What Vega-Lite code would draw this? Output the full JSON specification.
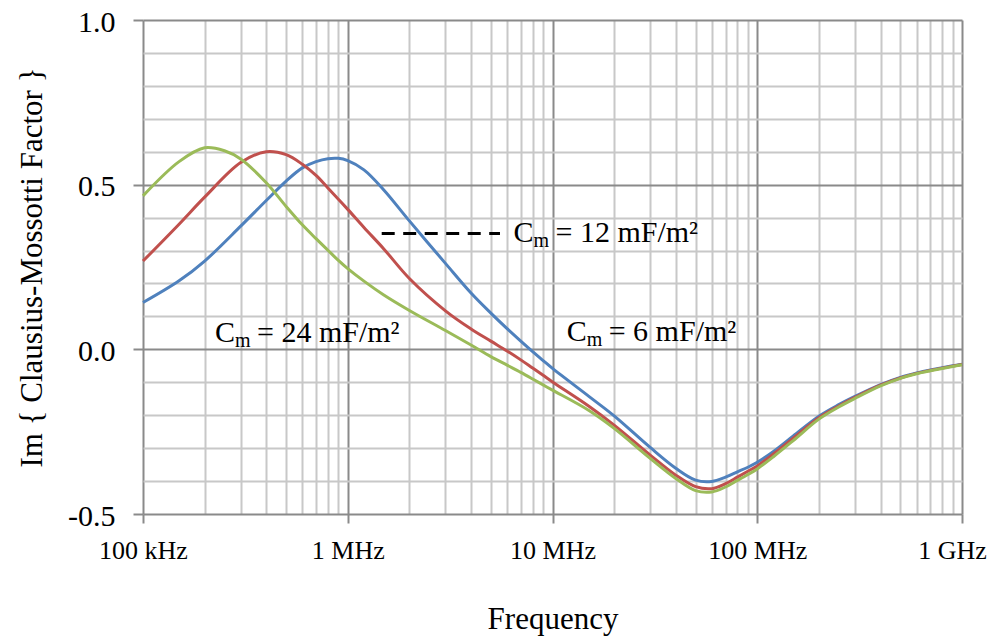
{
  "$schema": "https://vega.github.io/schema/vega-lite/v6.json",
  "width": 819,
  "height": 494,
  "autosize": {"type": "none"},
  "padding": {"left": 143, "top": 20, "right": 32, "bottom": 125},
  "config": {"view": {"stroke": null}, "font": "Liberation Serif"},
  "datasets": {
    "curves": [
      {"f": 100000, "v": 0.142, "s": "6"}, {"f": 150000, "v": 0.208, "s": "6"}, {"f": 200000, "v": 0.268, "s": "6"}, {"f": 300000, "v": 0.374, "s": "6"}, {"f": 400000, "v": 0.452, "s": "6"}, {"f": 500000, "v": 0.511, "s": "6"}, {"f": 600000, "v": 0.551, "s": "6"}, {"f": 700000, "v": 0.57, "s": "6"}, {"f": 800000, "v": 0.579, "s": "6"}, {"f": 900000, "v": 0.58, "s": "6"}, {"f": 1000000, "v": 0.573, "s": "6"}, {"f": 1200000, "v": 0.545, "s": "6"}, {"f": 1500000, "v": 0.484, "s": "6"}, {"f": 2000000, "v": 0.39, "s": "6"}, {"f": 3000000, "v": 0.261, "s": "6"}, {"f": 4000000, "v": 0.171, "s": "6"}, {"f": 5000000, "v": 0.11, "s": "6"}, {"f": 6000000, "v": 0.063, "s": "6"}, {"f": 7000000, "v": 0.025, "s": "6"}, {"f": 8000000, "v": -0.007, "s": "6"}, {"f": 9000000, "v": -0.034, "s": "6"}, {"f": 10000000, "v": -0.058, "s": "6"}, {"f": 15000000, "v": -0.142, "s": "6"}, {"f": 20000000, "v": -0.202, "s": "6"}, {"f": 30000000, "v": -0.298, "s": "6"}, {"f": 40000000, "v": -0.361, "s": "6"}, {"f": 50000000, "v": -0.397, "s": "6"}, {"f": 60000000, "v": -0.401, "s": "6"}, {"f": 70000000, "v": -0.388, "s": "6"}, {"f": 80000000, "v": -0.372, "s": "6"}, {"f": 90000000, "v": -0.358, "s": "6"}, {"f": 100000000, "v": -0.343, "s": "6"}, {"f": 120000000, "v": -0.31, "s": "6"}, {"f": 150000000, "v": -0.263, "s": "6"}, {"f": 200000000, "v": -0.203, "s": "6"}, {"f": 250000000, "v": -0.168, "s": "6"}, {"f": 300000000, "v": -0.143, "s": "6"}, {"f": 400000000, "v": -0.107, "s": "6"}, {"f": 500000000, "v": -0.085, "s": "6"}, {"f": 600000000, "v": -0.072, "s": "6"}, {"f": 700000000, "v": -0.063, "s": "6"}, {"f": 800000000, "v": -0.056, "s": "6"}, {"f": 900000000, "v": -0.05, "s": "6"}, {"f": 1000000000, "v": -0.045, "s": "6"},
      {"f": 100000, "v": 0.268, "s": "12"}, {"f": 150000, "v": 0.38, "s": "12"}, {"f": 200000, "v": 0.462, "s": "12"}, {"f": 300000, "v": 0.567, "s": "12"}, {"f": 400000, "v": 0.6, "s": "12"}, {"f": 500000, "v": 0.591, "s": "12"}, {"f": 600000, "v": 0.562, "s": "12"}, {"f": 700000, "v": 0.528, "s": "12"}, {"f": 800000, "v": 0.49, "s": "12"}, {"f": 900000, "v": 0.456, "s": "12"}, {"f": 1000000, "v": 0.425, "s": "12"}, {"f": 1200000, "v": 0.37, "s": "12"}, {"f": 1500000, "v": 0.305, "s": "12"}, {"f": 2000000, "v": 0.215, "s": "12"}, {"f": 3000000, "v": 0.117, "s": "12"}, {"f": 4000000, "v": 0.062, "s": "12"}, {"f": 5000000, "v": 0.025, "s": "12"}, {"f": 6000000, "v": -0.005, "s": "12"}, {"f": 7000000, "v": -0.032, "s": "12"}, {"f": 8000000, "v": -0.057, "s": "12"}, {"f": 9000000, "v": -0.079, "s": "12"}, {"f": 10000000, "v": -0.099, "s": "12"}, {"f": 15000000, "v": -0.172, "s": "12"}, {"f": 20000000, "v": -0.23, "s": "12"}, {"f": 30000000, "v": -0.321, "s": "12"}, {"f": 40000000, "v": -0.382, "s": "12"}, {"f": 50000000, "v": -0.417, "s": "12"}, {"f": 60000000, "v": -0.423, "s": "12"}, {"f": 70000000, "v": -0.408, "s": "12"}, {"f": 80000000, "v": -0.388, "s": "12"}, {"f": 90000000, "v": -0.37, "s": "12"}, {"f": 100000000, "v": -0.354, "s": "12"}, {"f": 120000000, "v": -0.318, "s": "12"}, {"f": 150000000, "v": -0.27, "s": "12"}, {"f": 200000000, "v": -0.208, "s": "12"}, {"f": 250000000, "v": -0.172, "s": "12"}, {"f": 300000000, "v": -0.146, "s": "12"}, {"f": 400000000, "v": -0.109, "s": "12"}, {"f": 500000000, "v": -0.087, "s": "12"}, {"f": 600000000, "v": -0.073, "s": "12"}, {"f": 700000000, "v": -0.064, "s": "12"}, {"f": 800000000, "v": -0.057, "s": "12"}, {"f": 900000000, "v": -0.051, "s": "12"}, {"f": 1000000000, "v": -0.046, "s": "12"},
      {"f": 100000, "v": 0.466, "s": "24"}, {"f": 150000, "v": 0.57, "s": "24"}, {"f": 200000, "v": 0.612, "s": "24"}, {"f": 250000, "v": 0.603, "s": "24"}, {"f": 300000, "v": 0.578, "s": "24"}, {"f": 400000, "v": 0.506, "s": "24"}, {"f": 500000, "v": 0.434, "s": "24"}, {"f": 600000, "v": 0.378, "s": "24"}, {"f": 700000, "v": 0.336, "s": "24"}, {"f": 800000, "v": 0.301, "s": "24"}, {"f": 900000, "v": 0.27, "s": "24"}, {"f": 1000000, "v": 0.245, "s": "24"}, {"f": 1200000, "v": 0.207, "s": "24"}, {"f": 1500000, "v": 0.165, "s": "24"}, {"f": 2000000, "v": 0.118, "s": "24"}, {"f": 3000000, "v": 0.057, "s": "24"}, {"f": 4000000, "v": 0.013, "s": "24"}, {"f": 5000000, "v": -0.022, "s": "24"}, {"f": 6000000, "v": -0.048, "s": "24"}, {"f": 7000000, "v": -0.07, "s": "24"}, {"f": 8000000, "v": -0.09, "s": "24"}, {"f": 9000000, "v": -0.108, "s": "24"}, {"f": 10000000, "v": -0.124, "s": "24"}, {"f": 15000000, "v": -0.185, "s": "24"}, {"f": 20000000, "v": -0.24, "s": "24"}, {"f": 30000000, "v": -0.331, "s": "24"}, {"f": 40000000, "v": -0.392, "s": "24"}, {"f": 50000000, "v": -0.429, "s": "24"}, {"f": 60000000, "v": -0.433, "s": "24"}, {"f": 70000000, "v": -0.418, "s": "24"}, {"f": 80000000, "v": -0.398, "s": "24"}, {"f": 90000000, "v": -0.38, "s": "24"}, {"f": 100000000, "v": -0.363, "s": "24"}, {"f": 120000000, "v": -0.326, "s": "24"}, {"f": 150000000, "v": -0.277, "s": "24"}, {"f": 200000000, "v": -0.212, "s": "24"}, {"f": 250000000, "v": -0.175, "s": "24"}, {"f": 300000000, "v": -0.149, "s": "24"}, {"f": 400000000, "v": -0.111, "s": "24"}, {"f": 500000000, "v": -0.088, "s": "24"}, {"f": 600000000, "v": -0.074, "s": "24"}, {"f": 700000000, "v": -0.065, "s": "24"}, {"f": 800000000, "v": -0.058, "s": "24"}, {"f": 900000000, "v": -0.052, "s": "24"}, {"f": 1000000000, "v": -0.047, "s": "24"}
    ],
    "labels": [
      {"f": 224700, "v": 0.023, "rest": "= 24 mF/m²"},
      {"f": 11730000, "v": 0.024, "rest": "= 6 mF/m²"},
      {"f": 6450000, "v": 0.327, "rest": "= 12 mF/m²"}
    ],
    "dash": [
      {"f1": 1465000, "f2": 5540000, "v": 0.352}
    ]
  },
  "encoding": {
    "x": {
      "field": "f", "type": "quantitative",
      "scale": {"type": "log", "domain": [100000, 1000000000], "nice": false},
      "axis": {
        "values": [100000, 200000, 300000, 400000, 500000, 600000, 700000, 800000, 900000, 1000000, 2000000, 3000000, 4000000, 5000000, 6000000, 7000000, 8000000, 9000000, 10000000, 20000000, 30000000, 40000000, 50000000, 60000000, 70000000, 80000000, 90000000, 100000000, 200000000, 300000000, 400000000, 500000000, 600000000, 700000000, 800000000, 900000000, 1000000000],
        "title": "Frequency",
        "titleFont": "Liberation Serif", "titleFontSize": 31, "titleFontWeight": "normal", "titleColor": "#000",
        "titleX": 409.5, "titleY": 114, "titleBaseline": "alphabetic", "titleAnchor": "middle",
        "labelExpr": "abs(datum.value-1e5)<1 ? '100 kHz' : abs(datum.value-1e6)<1 ? '1 MHz' : abs(datum.value-1e7)<1 ? '10 MHz' : abs(datum.value-1e8)<1 ? '100 MHz' : abs(datum.value-1e9)<1 ? '1 GHz' : ''",
        "labelFont": "Liberation Serif", "labelFontSize": 26, "labelColor": "#000",
        "labelBaseline": "alphabetic", "labelPadding": 35, "labelFlush": false, "labelOverlap": false,
        "labelOffset": {"condition": {"test": "datum.value > 5e8", "value": -10}, "value": 0},
        "domain": false,
        "grid": true,
        "gridColor": {"condition": {"test": "abs(log(datum.value)/LN10 - round(log(datum.value)/LN10)) < 1e-6", "value": "#8a8a8a"}, "value": "#c8c8c8"},
        "gridWidth": 2,
        "ticks": true, "tickSize": 9, "tickWidth": 2,
        "tickColor": {"condition": {"test": "abs(log(datum.value)/LN10 - round(log(datum.value)/LN10)) < 1e-6", "value": "#8a8a8a"}, "value": "transparent"}
      }
    },
    "y": {
      "field": "v", "type": "quantitative",
      "scale": {"domain": [-0.5, 1.0], "nice": false, "zero": false},
      "axis": {
        "values": [-0.5, -0.4, -0.3, -0.2, -0.1, 0, 0.1, 0.2, 0.3, 0.4, 0.5, 0.6, 0.7, 0.8, 0.9, 1.0],
        "title": "Im { Clausius-Mossotti Factor }",
        "titleFont": "Liberation Serif", "titleFontSize": 31, "titleFontWeight": "normal", "titleColor": "#000",
        "titleAngle": -90, "titleX": -102, "titleY": 247, "titleBaseline": "alphabetic", "titleAlign": "center",
        "labelExpr": "abs(datum.value+0.5)<1e-6 ? '-0.5' : abs(datum.value)<1e-6 ? '0.0' : abs(datum.value-0.5)<1e-6 ? '0.5' : abs(datum.value-1)<1e-6 ? '1.0' : ''",
        "labelFont": "Liberation Serif", "labelFontSize": 30, "labelColor": "#000",
        "labelPadding": 18, "labelOffset": 2, "labelOverlap": false, "labelFlush": false,
        "domain": false,
        "grid": true,
        "gridColor": {"condition": {"test": "abs(datum.value*2 - round(datum.value*2)) < 1e-6", "value": "#8a8a8a"}, "value": "#c8c8c8"},
        "gridWidth": 2,
        "ticks": true, "tickSize": 10, "tickWidth": 2,
        "tickColor": {"condition": {"test": "abs(datum.value*2 - round(datum.value*2)) < 1e-6", "value": "#8a8a8a"}, "value": "transparent"}
      }
    }
  },
  "layer": [
    {
      "data": {"name": "curves"},
      "transform": [{"filter": "datum.s === '6'"}],
      "mark": {"type": "line", "interpolate": "catmull-rom", "strokeWidth": 3, "color": "#4f81bd"}
    },
    {
      "data": {"name": "curves"},
      "transform": [{"filter": "datum.s === '12'"}],
      "mark": {"type": "line", "interpolate": "catmull-rom", "strokeWidth": 3, "color": "#c0504d"}
    },
    {
      "data": {"name": "curves"},
      "transform": [{"filter": "datum.s === '24'"}],
      "mark": {"type": "line", "interpolate": "catmull-rom", "strokeWidth": 3, "color": "#9bbb59"}
    },
    {
      "data": {"name": "dash"},
      "mark": {"type": "rule", "strokeWidth": 3, "color": "#000", "strokeDash": [13, 8.5]},
      "encoding": {
        "x": {"field": "f1", "type": "quantitative"},
        "x2": {"field": "f2"},
        "y": {"field": "v", "type": "quantitative"}
      }
    },
    {
      "data": {"name": "labels"},
      "mark": {"type": "text", "text": "C", "font": "Liberation Serif", "fontSize": 30, "align": "left", "baseline": "alphabetic", "color": "#000"}
    },
    {
      "data": {"name": "labels"},
      "mark": {"type": "text", "text": "m", "font": "Liberation Serif", "fontSize": 20, "align": "left", "baseline": "alphabetic", "dx": 20, "dy": 5, "color": "#000"}
    },
    {
      "data": {"name": "labels"},
      "mark": {"type": "text", "font": "Liberation Serif", "fontSize": 30, "align": "left", "baseline": "alphabetic", "dx": 42, "color": "#000"},
      "encoding": {"text": {"field": "rest", "type": "nominal"}}
    }
  ]
}
